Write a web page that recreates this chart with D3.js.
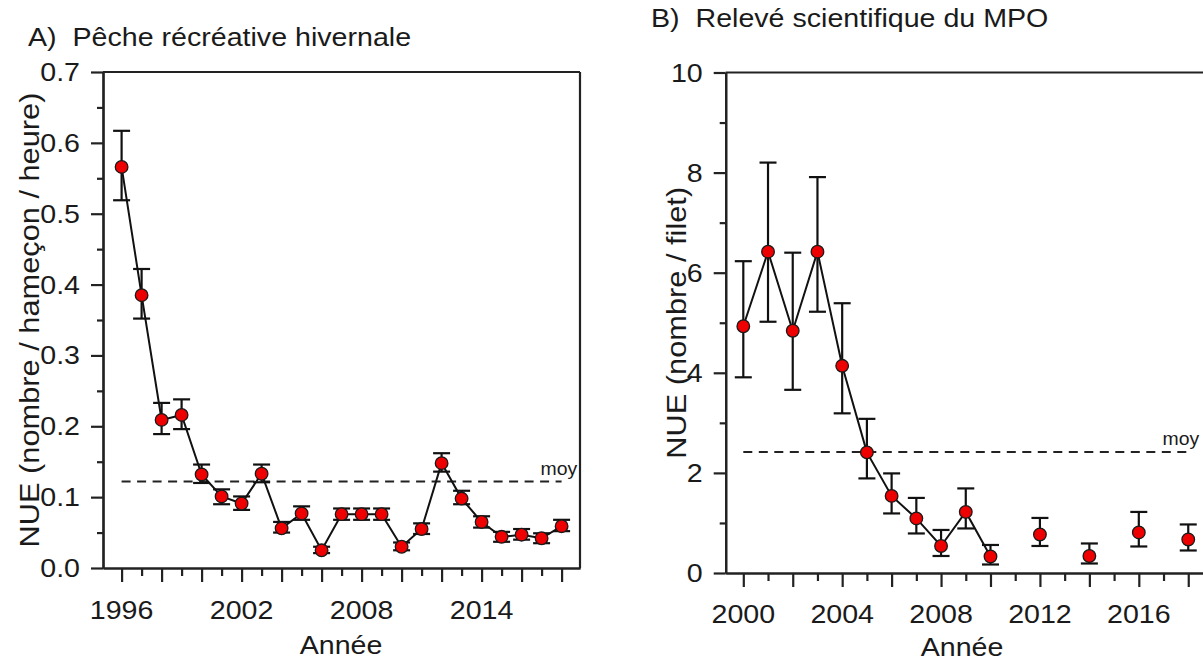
<!DOCTYPE html>
<html>
<head>
<meta charset="utf-8">
<script src="https://cdn.jsdelivr.net/npm/d3@7"></script>
<style>
  html, body { margin: 0; padding: 0; background: #fff; }
  svg { display: block; }
  text { font-family: "Liberation Sans", Arial, Helvetica, sans-serif; fill: #1a1a1a; white-space: pre; }
</style>
</head>
<body>
<svg id="chart" width="1203" height="664"></svg>
<script>
// ---------- Data ----------
const titleA = "A)\u00a0\u00a0Pêche récréative hivernale";
const titleB = "B)\u00a0\u00a0Relevé scientifique du MPO";
const yLabelA = "NUE (nombre / hameçon / heure)";
const yLabelB = "NUE (nombre / filet)";
const xLabel = "Année";
const meanLabel = "moy";

const yearsA = [1996,1997,1998,1999,2000,2001,2002,2003,2004,2005,2006,2007,2008,2009,2010,2011,2012,2013,2014,2015,2016,2017,2018];
const nueA   = [0.566,0.385,0.209,0.216,0.132,0.101,0.091,0.133,0.056,0.077,0.025,0.076,0.076,0.076,0.030,0.055,0.148,0.098,0.065,0.044,0.047,0.042,0.059];
const upperA = [0.617,0.422,0.233,0.238,0.146,0.111,0.101,0.146,0.065,0.087,0.030,0.084,0.084,0.084,0.036,0.063,0.162,0.109,0.073,0.051,0.055,0.049,0.068];
const lowerA = [0.519,0.352,0.189,0.196,0.120,0.090,0.082,0.121,0.050,0.068,0.021,0.068,0.068,0.068,0.025,0.048,0.136,0.090,0.057,0.037,0.040,0.035,0.052];
const meanA = 0.122;
const yTicksA = [0,0.1,0.2,0.3,0.4,0.5,0.6,0.7];
const yMinorA = [0.05,0.15,0.25,0.35,0.45,0.55,0.65];
const xMajorA = [1996,1998,2000,2002,2004,2006,2008,2010,2012,2014,2016,2018];
const xMinorA = [1997,1999,2001,2003,2005,2007,2009,2011,2013,2015,2017];
const xLabelsA = [1996,2002,2008,2014];

const yearsB = [2000,2001,2002,2003,2004,2005,2006,2007,2008,2009,2010,2012,2014,2016,2018];
const nueB   = [4.93,6.42,4.84,6.42,4.14,2.41,1.54,1.09,0.54,1.22,0.33,0.77,0.34,0.81,0.67];
const upperB = [6.23,8.20,6.40,7.91,5.39,3.08,1.99,1.50,0.86,1.69,0.56,1.10,0.59,1.22,0.97];
const lowerB = [3.91,5.02,3.66,5.22,3.19,1.89,1.19,0.79,0.34,0.89,0.17,0.54,0.19,0.53,0.45];
const meanB = 2.42;
const yTicksB = [0,2,4,6,8,10];
const yMinorB = [1,3,5,7,9];
const xMajorB = [2000,2002,2004,2006,2008,2010,2012,2014,2016,2018];
const xMinorB = [2001,2003,2005,2007,2009,2011,2013,2015,2017];
const xLabelsB = [2000,2004,2008,2012,2016];

// ---------- Style ----------
const FS = 26;        // font size
const SX = 1.1;       // horizontal glyph stretch seen in the reference
const RED = "#ee0000";

const svg = d3.select("#chart");

function hText(g, str, x, y, anchor, size, sx) {
  return g.append("text")
    .attr("transform", `translate(${x},${y}) scale(${sx},1)`)
    .attr("text-anchor", anchor)
    .style("font-size", size + "px")
    .text(str);
}
function vText(g, str, x, y, size, sx) {
  return g.append("text")
    .attr("transform", `translate(${x},${y}) rotate(-90) scale(${sx},1)`)
    .attr("text-anchor", "middle")
    .style("font-size", size + "px")
    .text(str);
}

function panel(cfg) {
  const g = svg.append("g");
  const x = d3.scaleLinear().domain(cfg.xDomain).range(cfg.xRange);
  const y = d3.scaleLinear().domain(cfg.yDomain).range(cfg.yRange);
  const [x0, x1] = cfg.xRange;
  const [yb, yt] = cfg.yRange;

  // frame (top and right)
  g.append("line").attr("x1", x0).attr("x2", x1).attr("y1", yt).attr("y2", yt)
    .attr("stroke", "#222").attr("stroke-width", 2.2);
  g.append("line").attr("x1", x1).attr("x2", x1).attr("y1", yt).attr("y2", yb)
    .attr("stroke", "#222").attr("stroke-width", 2.2);

  // y axis
  const yAx = g.append("g").attr("transform", `translate(${x0},0)`)
    .call(d3.axisLeft(y).tickValues(cfg.yTicks).tickSize(12).tickSizeOuter(0).tickFormat(""));
  const yMin = g.append("g").attr("transform", `translate(${x0},0)`)
    .call(d3.axisLeft(y).tickValues(cfg.yMinor).tickSize(6).tickSizeOuter(0).tickFormat(""));
  // x axis
  const xAx = g.append("g").attr("transform", `translate(0,${yb})`)
    .call(d3.axisBottom(x).tickValues(cfg.xMajor).tickSize(14).tickSizeOuter(0).tickFormat(""));
  const xMin = g.append("g").attr("transform", `translate(0,${yb})`)
    .call(d3.axisBottom(x).tickValues(cfg.xMinor).tickSize(8).tickSizeOuter(0).tickFormat(""));
  [yAx, yMin, xAx, xMin].forEach(a => {
    a.selectAll("path.domain").attr("stroke", "#222").attr("stroke-width", 2.2);
    a.selectAll(".tick line").attr("stroke", "#222").attr("stroke-width", 2.2);
  });

  // tick labels
  cfg.yTicks.forEach(v => {
    hText(g, cfg.yFmt(v), x0 - 23, y(v) + 9, "end", FS, SX);
  });
  cfg.xLabels.forEach(v => {
    hText(g, String(v), x(v), yb + cfg.xLabDy, "middle", FS, SX);
  });

  // axis titles
  hText(g, xLabel, cfg.xTitleX, yb + cfg.xTitleDy, "middle", FS, SX);
  vText(g, cfg.yLabel, cfg.yTitleX, (yt + yb) / 2, 27, 1.14);
  hText(g, cfg.title, cfg.titleX, cfg.titleY, "start", FS, SX);

  // mean dashed line
  const yrs = cfg.years;
  g.append("line")
    .attr("x1", x(yrs[0])).attr("x2", x(yrs[yrs.length - 1]))
    .attr("y1", y(cfg.mean)).attr("y2", y(cfg.mean))
    .attr("stroke", "#222").attr("stroke-width", 2).attr("stroke-dasharray", "9,6.5");
  hText(g, meanLabel, x(2017) - 1, y(cfg.mean) - 7, "start", 18.5, 1.05);

  const data = yrs.map((yr, i) => ({ yr, v: cfg.vals[i], hi: cfg.hi[i], lo: cfg.lo[i] }));

  // connecting line over runs of consecutive years
  const runs = [];
  data.forEach((d, i) => {
    if (i > 0 && d.yr - data[i - 1].yr === 1) runs[runs.length - 1].push(d);
    else runs.push([d]);
  });
  const line = d3.line().x(d => x(d.yr)).y(d => y(d.v));
  runs.filter(r => r.length > 1).forEach(r => {
    g.append("path").attr("d", line(r)).attr("fill", "none")
      .attr("stroke", "#111").attr("stroke-width", 2);
  });

  // error bars
  const eb = g.append("g").attr("stroke", "#111").attr("stroke-width", 2.2);
  data.forEach(d => {
    eb.append("line").attr("x1", x(d.yr)).attr("x2", x(d.yr)).attr("y1", y(d.hi)).attr("y2", y(d.lo));
    eb.append("line").attr("x1", x(d.yr) - 8.5).attr("x2", x(d.yr) + 8.5).attr("y1", y(d.hi)).attr("y2", y(d.hi));
    eb.append("line").attr("x1", x(d.yr) - 8.5).attr("x2", x(d.yr) + 8.5).attr("y1", y(d.lo)).attr("y2", y(d.lo));
  });

  // markers
  g.selectAll("circle.pt").data(data).enter().append("circle")
    .attr("class", "pt")
    .attr("cx", d => x(d.yr)).attr("cy", d => y(d.v)).attr("r", 6.3)
    .attr("fill", RED).attr("stroke", "#1a1a1a").attr("stroke-width", 1.3);
}

panel({
  xDomain: [1995.07, 2018.92], xRange: [103, 580],
  yDomain: [0, 0.7], yRange: [568, 72],
  yTicks: yTicksA, yMinor: yMinorA, xMajor: xMajorA, xMinor: xMinorA, xLabels: xLabelsA,
  yFmt: d3.format(".1f"),
  years: yearsA, vals: nueA, hi: upperA, lo: lowerA, mean: meanA,
  title: titleA, titleX: 28, titleY: 46,
  yLabel: yLabelA, yTitleX: 39,
  xTitleX: 341, xTitleDy: 86, xLabDy: 51
});

panel({
  xDomain: [1999.288, 2018.88], xRange: [725.7, 1210],
  yDomain: [0, 10], yRange: [573, 72.5],
  yTicks: yTicksB, yMinor: yMinorB, xMajor: xMajorB, xMinor: xMinorB, xLabels: xLabelsB,
  yFmt: d3.format("d"),
  years: yearsB, vals: nueB, hi: upperB, lo: lowerB, mean: meanB,
  title: titleB, titleX: 651, titleY: 27,
  yLabel: yLabelB, yTitleX: 686,
  xTitleX: 962, xTitleDy: 83, xLabDy: 50
});
</script>
</body>
</html>
